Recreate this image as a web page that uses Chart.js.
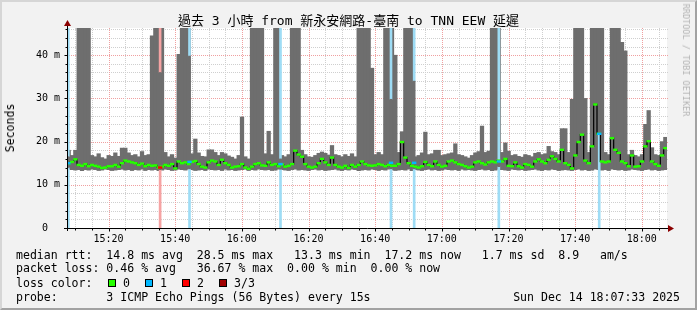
<!DOCTYPE html>
<html>
<head>
<meta charset="utf-8">
<script src="https://cdn.jsdelivr.net/npm/chart.js@4.4.1/dist/chart.umd.min.js"></script>
<style>
body { margin: 0; background: #f2f2f2; }
#wrap { position: relative; width: 697px; height: 310px; background: #f2f2f2; overflow: hidden;
        font-family: "DejaVu Sans Mono", monospace; color: #000; }
#c { position: absolute; left: 0; top: 0; }
.t { position: absolute; white-space: pre; font-size: 11.56px; line-height: 14px; }
#title { left: 0; width: 697px; top: 13px; text-align: center; font-size: 13px; line-height: 16px;
         font-family: "DejaVu Sans Mono", "Noto Sans CJK TC", monospace; }
#ylab { left: 10px; top: 128px; transform: translate(-50%, -50%) rotate(-90deg); }
#brand { left: 686px; top: 60px; font-size: 8.5px; line-height: 10px; color: #b4b4b4;
         transform: translate(-50%, -50%) rotate(90deg); }
.sq { position: absolute; width: 6px; height: 6px; border: 1px solid #000; }
#frame { position: absolute; left: 0; top: 0; width: 697px; height: 310px; box-sizing: border-box;
         border: 2px solid; border-color: #d6d6d6 #a2a2a2 #a2a2a2 #d6d6d6; pointer-events: none; }
</style>
</head>
<body>
<div id="wrap">
  <canvas id="c" width="697" height="310"></canvas>
  <div class="t" id="title">過去 3 小時 from 新永安網路-臺南 to TNN EEW 延遲</div>
  <div class="t" id="ylab">Seconds</div>
  <div class="t" id="brand">RRDTOOL / TOBI OETIKER</div>
  <div class="t" style="left:16px;top:248px">median rtt:  14.8 ms avg  28.5 ms max   13.3 ms min  17.2 ms now   1.7 ms sd  8.9   am/s</div>
  <div class="t" style="left:16px;top:261px">packet loss: 0.46 % avg   36.67 % max  0.00 % min  0.00 % now</div>
  <div class="t" style="left:16px;top:276px">loss color:</div>
  <div class="sq" style="left:108px;top:279px;background:#26ff00"></div>
  <div class="t" style="left:123px;top:276px">0</div>
  <div class="sq" style="left:145px;top:279px;background:#00b8ff"></div>
  <div class="t" style="left:160px;top:276px">1</div>
  <div class="sq" style="left:182px;top:279px;background:#ff0000"></div>
  <div class="t" style="left:197px;top:276px">2</div>
  <div class="sq" style="left:219px;top:279px;background:#a10000"></div>
  <div class="t" style="left:234px;top:276px">3/3</div>
  <div class="t" style="left:16px;top:290px">probe:       3 ICMP Echo Pings (56 Bytes) every 15s</div>
  <div class="t" style="right:17px;top:290px">Sun Dec 14 18:07:33 2025</div>
  <div id="frame"></div>
</div>
<script>
// graph window: 3 hours ending 18:07:33, one smoke bar per minute
const startTime = '15:07:33';
const xTicks = ['15:20', '15:40', '16:00', '16:20', '16:40', '17:00', '17:20', '17:40', '18:00'];
const yTicks = [0, 10, 20, 30, 40];
const yTop = 46.3;

// smoke (min / max ping, ms) and median, one value per minute; 60 = above the top of the graph
const lo = [
    13.6, 13.5, 13.4, 13.5, 13.3, 13.5, 13.4, 13.6, 13.5, 13.3,
    13.4, 13.6, 13.5, 13.3, 13.4, 13.5, 13.6, 13.4, 13.5, 13.3,
    13.5, 13.4, 13.6, 13.3, 13.5, 13.4, 13.5, 13.3, 13.4, 13.6,
    13.5, 13.3, 13.4, 13.6, 13.5, 13.4, 13.6, 13.5, 13.3, 13.4,
    13.5, 13.3, 13.6, 13.5, 13.4, 13.5, 13.3, 13.6, 13.4, 13.5,
    13.3, 13.4, 13.5, 13.6, 13.3, 13.5, 13.4, 13.6, 13.5, 13.4,
    13.5, 13.3, 13.4, 13.6, 13.5, 13.4, 13.3, 13.5, 13.6, 13.4,
    13.5, 13.4, 13.3, 13.5, 13.6, 13.4, 13.5, 13.3, 13.4, 13.5,
    13.6, 13.4, 13.3, 13.5, 13.4, 13.6, 13.5, 13.3, 13.4, 13.5,
    13.4, 13.6, 13.5, 13.3, 13.5, 13.4, 13.6, 13.5, 13.3, 13.4,
    13.5, 13.4, 13.6, 13.3, 13.5, 13.4, 13.3, 13.5, 13.6, 13.4,
    13.5, 13.3, 13.4, 13.6, 13.5, 13.4, 13.5, 13.3, 13.6, 13.4,
    13.5, 13.4, 13.3, 13.5, 13.6, 13.4, 13.5, 13.3, 13.4, 13.6,
    13.5, 13.4, 13.3, 13.6, 13.5, 13.4, 13.5, 13.3, 13.4, 13.5,
    13.6, 13.4, 13.3, 13.5, 13.4, 13.6, 13.5, 13.3, 13.4, 13.5,
    13.4, 13.3, 13.5, 13.6, 13.4, 13.5, 13.3, 13.4, 13.6, 13.5,
    13.4, 13.5, 13.3, 13.6, 13.5, 13.4, 13.5, 13.3, 13.4, 13.6,
    13.5, 13.4, 13.3, 13.5, 13.6, 13.4, 13.5, 13.3, 13.4, 13.5
];
const hi = [
    18.0, 16.8, 18.0, 60, 60, 60, 60, 16.8, 16.5, 17.2,
    16.3, 16.0, 16.8, 16.6, 17.4, 16.6, 18.5, 18.5, 17.4, 16.8,
    17.0, 16.5, 17.7, 16.8, 17.0, 44.5, 60, 60, 60, 17.5,
    16.5, 17.0, 16.2, 40.2, 60, 60, 60, 17.2, 20.6, 17.4,
    16.6, 16.5, 18.1, 18.1, 17.5, 16.8, 17.5, 17.2, 16.7, 16.4,
    16.0, 16.8, 25.7, 16.5, 16.0, 60, 60, 60, 60, 17.2,
    22.4, 17.0, 60, 60, 16.8, 16.5, 17.0, 60, 60, 60,
    18.0, 17.0, 16.5, 16.4, 16.8, 17.3, 17.6, 17.3, 16.9, 19.1,
    17.0, 16.8, 16.5, 17.0, 16.6, 17.2, 16.5, 60, 60, 60,
    60, 37.0, 17.0, 17.5, 17.0, 60, 60, 60, 40.0, 17.5,
    22.3, 60, 60, 60, 16.5, 16.8, 17.4, 22.2, 17.0, 17.2,
    18.0, 18.0, 16.8, 17.0, 17.2, 17.4, 19.5, 17.0, 16.8, 16.5,
    16.2, 16.8, 17.4, 17.7, 23.6, 17.5, 17.8, 60, 60, 60,
    17.5, 19.7, 17.8, 16.8, 17.0, 16.6, 16.4, 17.0, 16.8, 16.5,
    17.3, 17.5, 17.0, 17.2, 18.9, 17.7, 17.5, 17.0, 23.0, 23.0,
    17.5, 29.8, 60, 60, 60, 30.0, 17.5, 60, 60, 60,
    60, 17.5, 17.0, 60, 60, 60, 43.0, 41.0, 17.0, 18.0,
    16.8, 16.5, 17.0, 24.0, 27.2, 18.6, 17.0, 16.8, 20.0, 21.0
];
const med = [
    15.0, 15.3, 15.9, 14.6, 14.4, 14.8, 14.3, 14.6, 14.4, 14.2,
    13.9, 14.0, 14.3, 14.3, 14.6, 14.2, 15.0, 15.6, 15.4, 15.2,
    15.0, 14.6, 14.9, 14.3, 14.6, 14.4, 14.5, 14.0, 14.2, 14.6,
    14.4, 14.8, 13.8, 15.4, 15.0, 15.2, 14.8, 15.3, 15.5, 14.8,
    14.2, 14.0, 15.2, 15.6, 15.4, 14.6, 15.8, 15.0, 14.6, 14.0,
    14.2, 14.3, 14.8, 14.0, 13.7, 14.2, 14.8, 15.0, 14.5, 14.4,
    15.2, 14.6, 14.8, 14.3, 14.7, 14.2, 14.4, 14.8, 17.9, 17.0,
    16.5, 14.8, 14.2, 14.0, 14.2, 15.0, 16.0, 15.2, 14.6, 16.3,
    14.6, 14.2, 14.0, 14.4, 13.9, 14.6, 14.2, 14.6, 15.4, 14.8,
    14.5, 14.4, 14.5, 14.8, 14.6, 14.3, 14.6, 14.4, 14.4, 14.8,
    19.9, 16.3, 15.0, 14.4, 14.2, 14.0, 14.3, 15.3, 14.6, 14.3,
    15.4, 14.6, 14.2, 14.4, 15.4, 15.6, 15.2, 14.8, 14.6, 14.3,
    14.0, 14.2, 15.2, 15.4, 15.0, 14.7, 15.2, 15.4, 15.2, 15.6,
    15.4, 16.0, 14.4, 14.3, 15.2, 14.3, 14.0, 14.8, 14.6, 14.2,
    15.4, 15.9, 15.4, 15.0, 15.8, 16.6, 16.0, 15.4, 18.1, 15.0,
    14.6, 13.8, 16.8, 19.9, 21.6, 15.6, 15.0, 18.9, 28.6, 21.8,
    15.4, 15.2, 15.4, 20.8, 18.1, 17.4, 15.4, 15.0, 14.3, 16.8,
    14.2, 14.3, 15.4, 18.9, 20.1, 15.4, 14.8, 14.4, 16.8, 18.5
];

// steps with packet loss: time, lost pings, smoke range and median of that step
const lossTime = ['15:07:56', '15:35:29', '15:44:18', '16:11:36', '16:44:45', '16:51:42', '17:17:06', '17:47:13'];
const lossLevel = [1, 2, 1, 1, 1, 1, 1, 1];
const lossLo = [14.0, 13.5, 13.7, 13.6, 13.7, 13.7, 14.2, 21.8];
const lossHi = [16.5, 36.0, 39.8, 16.0, 29.8, 34.0, 15.4, 60];
const lossMed = [15.0, 14.0, 15.3, 14.8, 15.1, 15.1, 15.4, 21.8];

const lossFill = { 1: '#9edcf5', 2: '#f6a3a3' };
const lossDot = { 1: '#00b8ff', 2: '#ff0000' };
const smokeColor = '#6e6e6e';
const minorGrid = '#cfcfcf';
const majorGrid = '#f0a0a0';
const arrowColor = '#8b0000';

function toMin(t) {
    const [h, m, s = 0] = t.split(':').map(Number);
    return h * 60 + m + s / 60;
}

const startMin = toMin(startTime);
const endMin = startMin + 180;

const smoke = lo.map((v, i) => ({ x: startMin + i + 0.5, y: [v, hi[i]] }));
const median = med.map((v, i) => ({ x: startMin + i + 0.5, y: v }));

const lossBars = [];
const lossSmoke = [];
const lossMedian = [];
lossTime.forEach((t, k) => {
    const x = toMin(t);
    lossBars.push({ x: x, y: [0, lossLo[k]], lv: lossLevel[k] });
    lossBars.push({ x: x, y: [lossHi[k], 60], lv: lossLevel[k] });
    lossSmoke.push({ x: x, y: [lossLo[k], lossHi[k]] });
    lossMedian.push({ x: x, y: lossMed[k], lv: lossLevel[k] });
});

// grid, axes and arrows in the rrdtool style
const frame = {
    id: 'frame',
    beforeDatasetsDraw(chart) {
        const { ctx, chartArea: a, scales: { x, y } } = chart;
        ctx.save();
        ctx.fillStyle = '#fff';
        ctx.fillRect(a.left, a.top, a.right - a.left, a.bottom - a.top);
        ctx.lineWidth = 1;
        ctx.setLineDash([1, 1]);
        for (let v = 2; v < yTop; v += 2) {
            const py = Math.round(y.getPixelForValue(v)) + 0.5;
            ctx.strokeStyle = v % 10 === 0 ? majorGrid : minorGrid;
            ctx.beginPath();
            ctx.moveTo(a.left, py);
            ctx.lineTo(a.right + 1, py);
            ctx.stroke();
        }
        for (let m = Math.ceil(startMin / 5) * 5; m < endMin; m += 5) {
            const px = Math.round(x.getPixelForValue(m)) + 0.5;
            ctx.strokeStyle = m % 20 === 0 ? majorGrid : minorGrid;
            ctx.beginPath();
            ctx.moveTo(px, a.top);
            ctx.lineTo(px, a.bottom);
            ctx.stroke();
        }
        ctx.restore();
    },
    afterDatasetsDraw(chart) {
        const { ctx, chartArea: a, scales: { x, y } } = chart;
        const bx = Math.round(a.left) + 0.5;
        const by = Math.round(a.bottom) + 0.5;
        ctx.save();
        ctx.strokeStyle = '#000';
        ctx.lineWidth = 1;
        ctx.beginPath();
        ctx.moveTo(a.left - 3, by);
        ctx.lineTo(a.right + 4, by);
        ctx.moveTo(bx, a.bottom + 3);
        ctx.lineTo(bx, a.top - 4);
        for (let v = 2; v < yTop; v += 2) {
            const py = Math.round(y.getPixelForValue(v)) + 0.5;
            ctx.moveTo(bx - (v % 10 === 0 ? 3 : 2), py);
            ctx.lineTo(bx, py);
        }
        for (let m = Math.ceil(startMin / 5) * 5; m < endMin; m += 5) {
            const px = Math.round(x.getPixelForValue(m)) + 0.5;
            ctx.moveTo(px, by);
            ctx.lineTo(px, by + (m % 20 === 0 ? 3 : 2));
        }
        ctx.stroke();
        ctx.fillStyle = arrowColor;
        ctx.beginPath();
        ctx.moveTo(a.right + 1, by - 3.5);
        ctx.lineTo(a.right + 7, by);
        ctx.lineTo(a.right + 1, by + 3.5);
        ctx.fill();
        ctx.beginPath();
        ctx.moveTo(bx - 3.5, a.top - 2);
        ctx.lineTo(bx, a.top - 8);
        ctx.lineTo(bx + 3.5, a.top - 2);
        ctx.fill();
        ctx.restore();
    }
};

const tickFont = { family: 'DejaVu Sans Mono', size: 10 };

new Chart(document.getElementById('c'), {
    type: 'bar',
    data: {
        datasets: [
            { type: 'bar', data: smoke, backgroundColor: smokeColor, borderWidth: 0,
              barThickness: 3.6, grouped: false, order: 5 },
            { type: 'bar', data: lossBars, backgroundColor: c => lossFill[c.raw.lv], borderWidth: 0,
              barThickness: 2, grouped: false, order: 4 },
            { type: 'bar', data: lossSmoke, backgroundColor: smokeColor, borderWidth: 0,
              barThickness: 2, grouped: false, order: 3 },
            { type: 'line', data: median, borderColor: '#000', borderWidth: 1.2, stepped: 'middle',
              pointStyle: 'line', pointRadius: 2.2, pointBorderWidth: 2.4, pointBorderColor: '#26ff00',
              order: 2 },
            { type: 'line', data: lossMedian, showLine: false, pointStyle: 'line', pointRadius: 2.2,
              pointBorderWidth: 2.4, pointBorderColor: c => lossDot[c.raw.lv], order: 1 }
        ]
    },
    options: {
        responsive: false,
        devicePixelRatio: 1,
        animation: false,
        events: [],
        layout: { padding: { left: 0, top: 28, right: 30, bottom: 64 } },
        plugins: { legend: { display: false }, title: { display: false }, tooltip: { enabled: false } },
        scales: {
            x: {
                type: 'linear',
                min: startMin,
                max: endMin,
                offset: false,
                grid: { display: false, offset: false, drawTicks: false },
                border: { display: false },
                afterBuildTicks: s => { s.ticks = xTicks.map(t => ({ value: toMin(t) })); },
                afterFit: s => { s.height = 18; },
                ticks: { font: tickFont, color: '#000', padding: 5, maxRotation: 0, autoSkip: false,
                         callback: (v, i) => xTicks[i] }
            },
            y: {
                min: 0,
                max: yTop,
                grid: { display: false, drawTicks: false },
                border: { display: false },
                afterBuildTicks: s => { s.ticks = yTicks.map(v => ({ value: v })); },
                afterFit: s => { s.width = 67; },
                ticks: { font: tickFont, color: '#000', padding: 7,
                         callback: v => v === 0 ? '0  ' : v + ' m' }
            }
        }
    },
    plugins: [frame]
});
</script>
</body>
</html>
